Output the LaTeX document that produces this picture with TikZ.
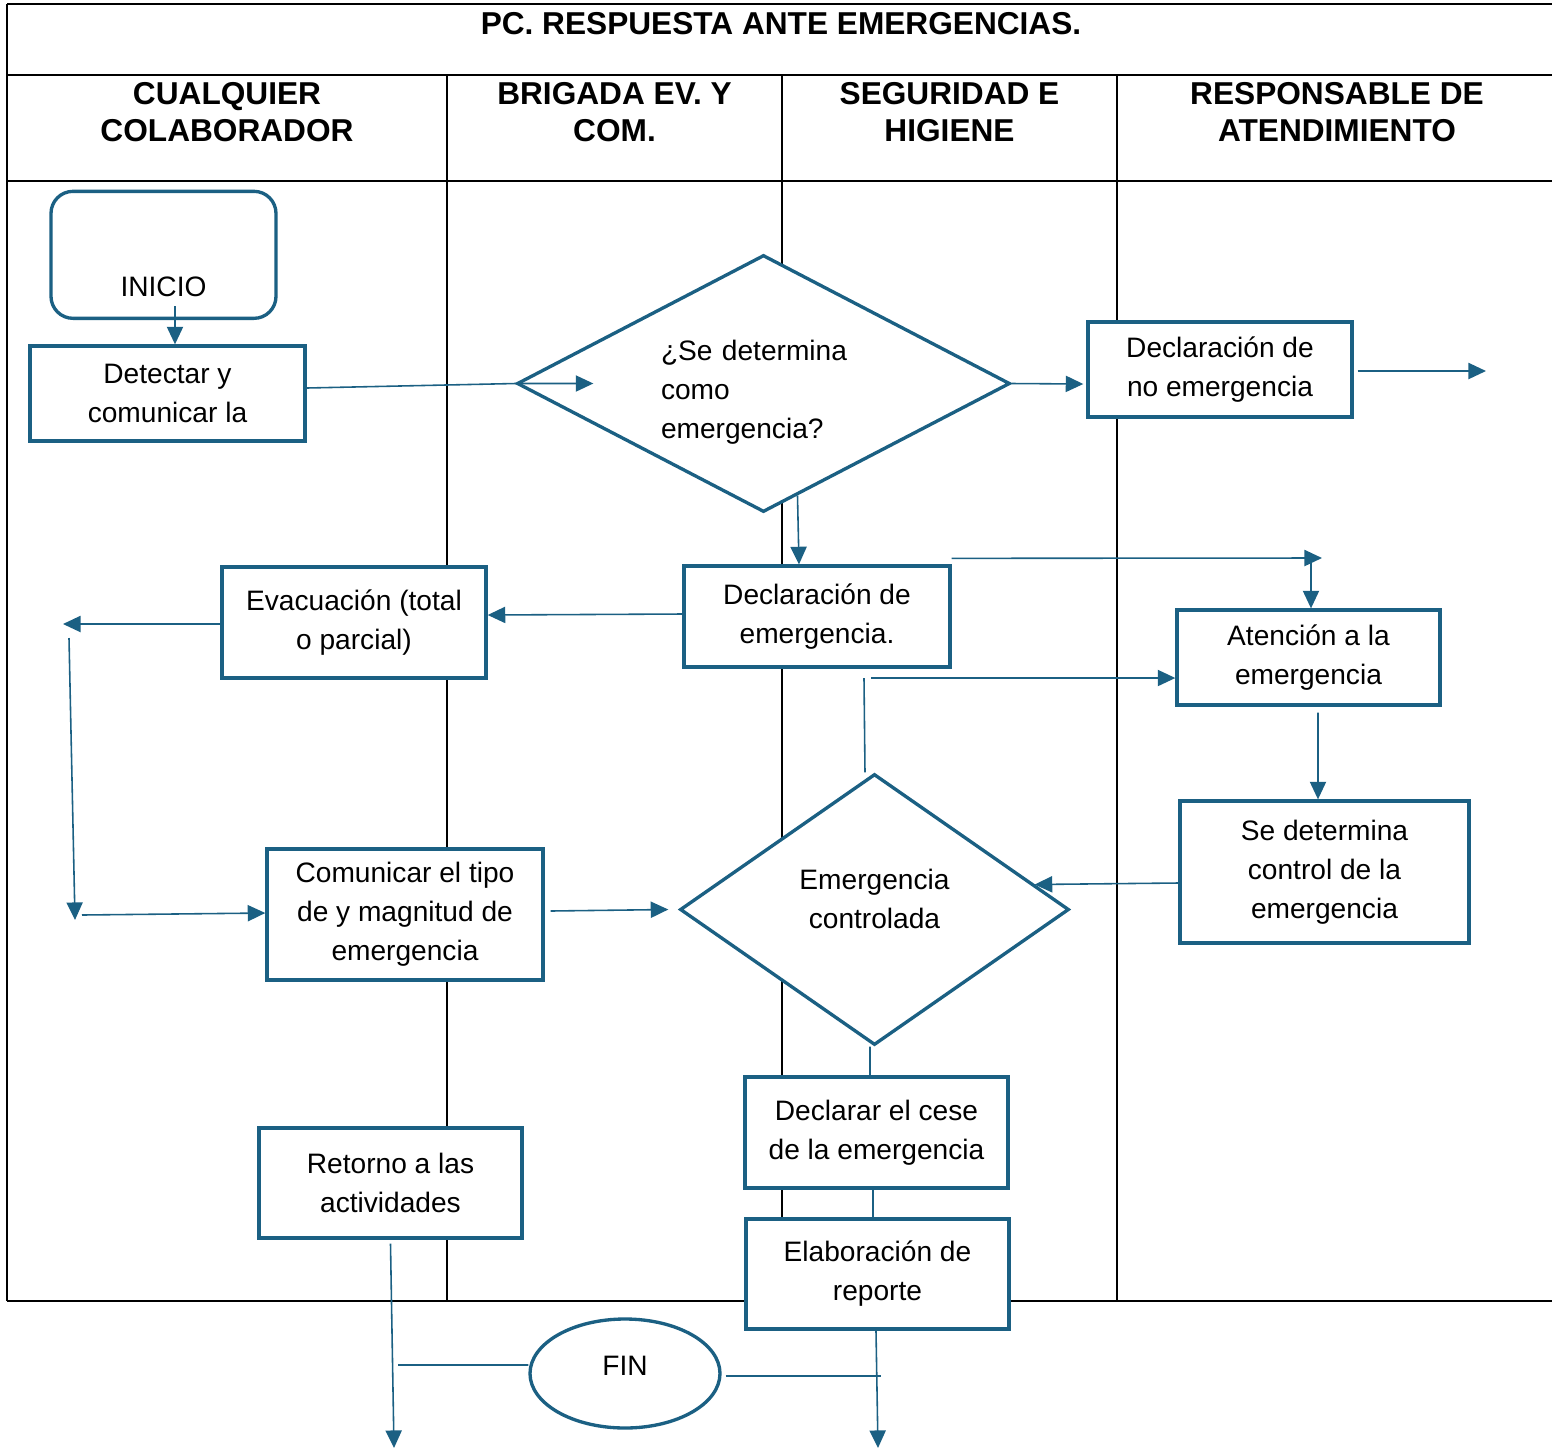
\documentclass[tikz,border=0pt]{standalone}
\usepackage{fontspec}
\setmainfont{Liberation Sans}
\usetikzlibrary{arrows.meta,shapes.geometric}

\definecolor{flowblue}{RGB}{27,96,131}
\newcommand{\boxtxt}{\fontsize{8}{11.1}\selectfont}
\newcommand{\lanetxt}{\bfseries\fontsize{9}{10.5}\selectfont}

\begin{document}
\begin{tikzpicture}[
  lane/.style={draw=black, line width=0.7pt},
  head/.style={align=center, font=\lanetxt, inner sep=0pt},
  box/.style={draw=flowblue, line width=0.95pt, fill=white, align=center, font=\boxtxt, inner sep=0pt},
  ask/.style={box, diamond, aspect=1.9, align=left},
  flow/.style={draw=flowblue, line width=0.45pt, -{Triangle[length=5pt,width=4.6pt]}},
  link/.style={draw=flowblue, line width=0.45pt}
]
  \useasboundingbox (0,0) rectangle (15.52,-14.51);

  % table and lanes
  \foreach \y in {0.04,0.75,1.81,13.01} {
    \draw[lane] (0.07,-\y) -- (15.52,-\y);
  }
  \draw[lane] (0.07,-0.04) -- (0.07,-13.01);
  \foreach \x in {4.47,7.82,11.17} {
    \draw[lane] (\x,-0.75) -- (\x,-13.01);
  }

  % titles
  \node[head] (title) at (7.81,-0.24) {PC. RESPUESTA ANTE EMERGENCIAS.};
  \node[head] (colab) at (2.27,-1.125) {CUALQUIER\\COLABORADOR};
  \node[head] (brigada) at (6.145,-1.125) {BRIGADA EV. Y\\COM.};
  \node[head] (seguridad) at (9.495,-1.125) {SEGURIDAD E\\HIGIENE};
  \node[head] (respons) at (13.37,-1.125) {RESPONSABLE DE\\ATENDIMIENTO};

  % steps
  \node[box, rounded corners=0.22cm, anchor=south, minimum width=2.25cm,
        text height=1.05cm, text depth=0.22cm] (inicio) at (1.635,-3.20) {INICIO};
  \node[box, minimum width=2.75cm, minimum height=0.95cm] (detectar) at (1.675,-3.935) {Detectar y\\comunicar la};
  \node[ask, minimum width=4.93cm, minimum height=2.57cm, text width=2.05cm, text height=0.38cm] (pregunta) at (7.635,-3.835) {¿Se determina\\como\\emergencia?};
  \node[box, minimum width=2.64cm, minimum height=0.95cm] (noemerg) at (12.20,-3.695) {Declaración de\\no emergencia};
  \node[box, minimum width=2.66cm, minimum height=1.01cm] (declara) at (8.17,-6.165) {Declaración de\\emergencia.};
  \node[box, minimum width=2.64cm, minimum height=1.11cm] (evac) at (3.54,-6.225) {Evacuación (total\\o parcial)};
  \node[box, minimum width=2.63cm, minimum height=0.95cm] (atencion) at (13.085,-6.575) {Atención a la\\emergencia};
  \node[box, minimum width=2.89cm, minimum height=1.42cm] (sedet) at (13.245,-8.72) {Se determina\\control de la\\emergencia};
  \node[box, minimum width=2.76cm, minimum height=1.31cm] (comun) at (4.05,-9.145) {Comunicar el tipo\\de y magnitud de\\emergencia};
  \node[ask, aspect=1.4, align=center, minimum width=3.89cm, minimum height=2.71cm, text depth=0.22cm] (ctrl) at (8.745,-9.095) {Emergencia\\controlada};
  \node[box, minimum width=2.63cm, minimum height=1.11cm] (cese) at (8.765,-11.325) {Declarar el cese\\de la emergencia};
  \node[box, minimum width=2.63cm, minimum height=1.10cm] (reporte) at (8.775,-12.74) {Elaboración de\\reporte};
  \node[box, minimum width=2.63cm, minimum height=1.10cm] (retorno) at (3.905,-11.83) {Retorno a las\\actividades};
  \node[box, ellipse, minimum width=1.90cm, minimum height=1.09cm, text depth=0.16cm] (fin) at (6.25,-13.735) {FIN};

  % loose ends
  \coordinate (noemerg-out) at (14.86,-3.71);
  \coordinate (evac-out) at (0.63,-6.24);
  \coordinate (left-top) at (0.69,-6.38);
  \coordinate (left-bot) at (0.75,-9.20);
  \coordinate (left-in) at (0.82,-9.15);
  \coordinate (atn-top) at (13.22,-5.58);
  \coordinate (atn-drop) at (13.11,-5.60);
  \coordinate (ctrl-up) at (8.64,-6.78);
  \coordinate (atn-in) at (8.71,-6.78);
  \coordinate (rep-out) at (8.78,-14.48);
  \coordinate (ret-out) at (3.94,-14.48);
  \coordinate (fin-l) at (3.98,-13.65);
  \coordinate (fin-r) at (8.81,-13.76);

  % connectors
  \draw[flow] ([xshift=0.115cm,yshift=0.14cm]inicio.south) -- ([xshift=0.075cm]detectar.north);
  \draw[flow] ([yshift=0.055cm]detectar.east) -- (pregunta.west) -- ++(0.78,0);
  \draw[flow] (pregunta.east) -- ([xshift=-0.03cm,yshift=-0.145cm]noemerg.west);
  \draw[flow] ([xshift=0.04cm,yshift=-0.015cm]noemerg.east) -- (noemerg-out);
  \draw[flow] ([xshift=0.34cm,yshift=0.18cm]pregunta.south) -- ([xshift=-0.18cm]declara.north);
  \draw[flow] ([yshift=0.025cm]declara.west) -- ([yshift=0.075cm]evac.east);
  \draw[flow] ([yshift=-0.015cm]evac.west) -- (evac-out);
  \draw[flow] (left-top) -- (left-bot);
  \draw[flow] (left-in) -- ([yshift=0.015cm]comun.west);
  \draw[flow] ([xshift=0.06cm,yshift=0.035cm]comun.east) -- ([xshift=-0.1cm]ctrl.west);
  \draw[flow] ([yshift=0.06cm]declara.north east) -- (atn-top);
  \draw[flow] (atn-drop) -- ([xshift=0.025cm]atencion.north);
  \draw[link] ([xshift=-0.095cm]ctrl.north) -- (ctrl-up);
  \draw[flow] (atn-in) -- ([yshift=-0.205cm]atencion.west);
  \draw[flow] ([xshift=0.095cm,yshift=-0.06cm]atencion.south) -- ([xshift=-0.065cm]sedet.north);
  \draw[flow] ([yshift=-0.11cm]sedet.west) -- ([xshift=-0.36cm,yshift=0.25cm]ctrl.east);
  \draw[link] ([xshift=-0.045cm]ctrl.south) -- ([xshift=-0.065cm]cese.north);
  \draw[link] ([xshift=-0.035cm]cese.south) -- ([xshift=-0.045cm]reporte.north);
  \draw[flow] ([xshift=-0.015cm]reporte.south) -- (rep-out);
  \draw[flow] ([yshift=-0.04cm]retorno.south) -- (ret-out);
  \draw[link] ([yshift=0.085cm]fin.west) -- (fin-l);
  \draw[link] ([xshift=0.04cm,yshift=-0.025cm]fin.east) -- (fin-r);
\end{tikzpicture}
\end{document}
